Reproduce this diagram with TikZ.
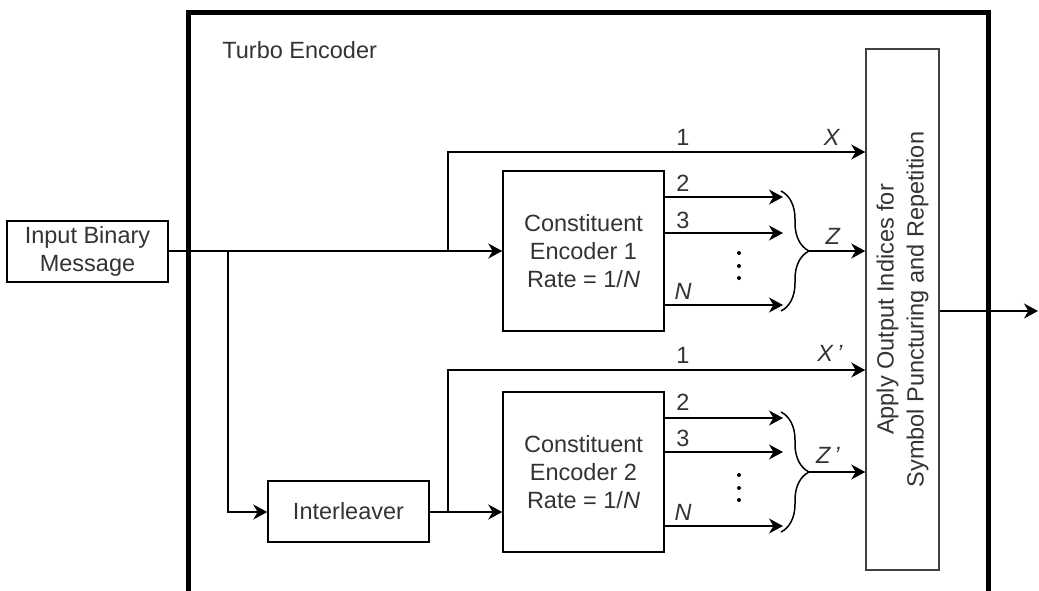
\documentclass[tikz,border=0pt]{standalone}
\usepackage{fontspec}
\setmainfont{Liberation Sans}
\usetikzlibrary{arrows.meta,decorations.pathreplacing}
\definecolor{txt}{HTML}{333333}
\begin{document}
\begin{tikzpicture}[x=0.5pt,y=-0.5pt,
  every node/.style={font=\fontsize{11.75}{14}\selectfont, text=txt},
  box/.style={draw=black, line width=0.75pt, align=center, inner sep=0pt},
  frame/.style={draw=black, line width=2.5pt, inner sep=0pt},
  wire/.style={draw=black, line width=0.75pt},
  arr/.style={wire, -{Stealth[length=7pt,width=7.5pt,inset=2.2pt]}},
  lbl/.style={inner sep=0pt},
  dot/.style={fill=black, draw=none},
  bracestyle/.style={draw=black, line width=0.75pt, decorate, decoration={brace, amplitude=14pt}},
]
\useasboundingbox (0,0) rectangle (1039,590);
% frame
\node[frame, minimum width=400pt, minimum height=290.5pt] (frame) at (588,302.5) {};
\node[lbl, anchor=west] (title) at (222,50) {Turbo Encoder};
% blocks
\node[box, minimum width=80.5pt, minimum height=30.5pt] (in) at (87.5,251.5) {Input Binary\\Message};
\node[box, minimum width=80.5pt, minimum height=30.5pt] (il) at (348.5,511.5) {Interleaver};
\node[box, minimum width=80.5pt, minimum height=80pt] (e1) at (583.5,251) {Constituent\\Encoder 1\\Rate = 1/\textit{N}};
\node[box, minimum width=80.5pt, minimum height=80pt] (e2) at (583.5,472) {Constituent\\Encoder 2\\Rate = 1/\textit{N}};
\node[box, draw=black!75, minimum width=36.5pt, minimum height=260.5pt] (ap) at (902.5,309.5) {};
\node[lbl, rotate=90, align=center, font=\fontsize{11.75}{15}\selectfont] (aptext) at (ap.center) {Apply Output Indices for\\Symbol Puncturing and Repetition};
% junctions
\coordinate (b2) at (228,251);
\coordinate (b1) at (448,251);
\coordinate (b3) at (448,512);
\coordinate (xr) at (0,152);
\coordinate (xpr) at (0,370);
% main paths
\draw[arr] (in.east |- b1) -- (e1.west |- b1);
\draw[arr] (b1) |- (ap.west |- xr);
\draw[arr] (b2) |- (il.west |- b3);
\draw[arr] (il.east |- b3) -- (e2.west |- b3);
\draw[arr] (b3) |- (ap.west |- xpr);
% encoder 1 outputs
\coordinate (o12) at (783,197);
\coordinate (o13) at (783,233);
\coordinate (o1n) at (783,305);
\draw[arr] (e1.east |- o12) -- (o12);
\draw[arr] (e1.east |- o13) -- (o13);
\draw[arr] (e1.east |- o1n) -- (o1n);
\coordinate (br1a) at (781,191);
\coordinate (br1b) at (781,311);
\draw[bracestyle] (br1a) -- (br1b);
\coordinate (z1) at (809,251);
\draw[arr] (z1) -- (ap.west |- z1);
\fill[dot] (739,253) circle (2) (739,266) circle (2) (739,278) circle (2);
% encoder 2 outputs
\coordinate (o22) at (783,418);
\coordinate (o23) at (783,452);
\coordinate (o2n) at (783,526);
\draw[arr] (e2.east |- o22) -- (o22);
\draw[arr] (e2.east |- o23) -- (o23);
\draw[arr] (e2.east |- o2n) -- (o2n);
\coordinate (br2a) at (781,412);
\coordinate (br2b) at (781,532);
\draw[bracestyle] (br2a) -- (br2b);
\coordinate (z2) at (809,472);
\draw[arr] (z2) -- (ap.west |- z2);
\fill[dot] (739,475) circle (2) (739,488) circle (2) (739,500) circle (2);
% output
\coordinate (out) at (1038,311);
\draw[arr] (ap.east |- out) -- (out);
% labels
\node[lbl] (l11) at (683,137) {1};
\node[lbl] (lx) at (832,137) {\textit{X}};
\node[lbl] (l12) at (683,183) {2};
\node[lbl] (l13) at (683,220) {3};
\node[lbl] (l1n) at (683,291) {\textit{N}};
\node[lbl] (lz) at (833,236) {\textit{Z}};
\node[lbl] (l21) at (683,355) {1};
\node[lbl] (lxp) at (830,353) {\textit{X\,\symbol{"27}}};
\node[lbl] (l22) at (683,402) {2};
\node[lbl] (l23) at (683,438) {3};
\node[lbl] (l2n) at (683,512) {\textit{N}};
\node[lbl] (lzp) at (828,455) {\textit{Z\,\symbol{"27}}};
\end{tikzpicture}
\end{document}
